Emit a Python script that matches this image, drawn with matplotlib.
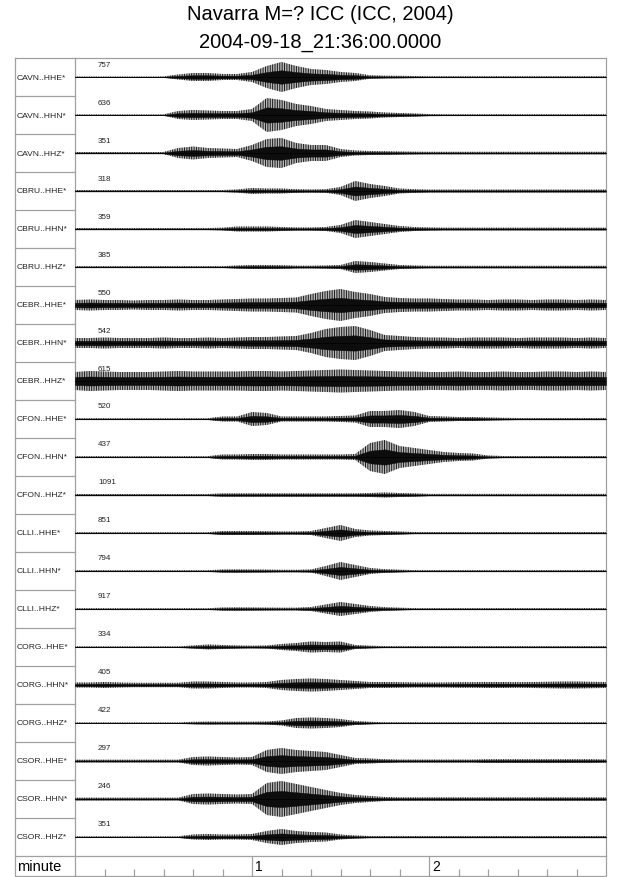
import matplotlib.pyplot as plt

plt.rcParams['font.family'] = ['Liberation Sans', 'DejaVu Sans']
plt.rcParams['hatch.linewidth'] = 0.7

title = "Navarra M=? ICC (ICC, 2004)"
start_time = "2004-09-18_21:36:00.0000"

channels = ["CAVN..HHE*", "CAVN..HHN*", "CAVN..HHZ*",
            "CBRU..HHE*", "CBRU..HHN*", "CBRU..HHZ*",
            "CEBR..HHE*", "CEBR..HHN*", "CEBR..HHZ*",
            "CFON..HHE*", "CFON..HHN*", "CFON..HHZ*",
            "CLLI..HHE*", "CLLI..HHN*", "CLLI..HHZ*",
            "CORG..HHE*", "CORG..HHN*", "CORG..HHZ*",
            "CSOR..HHE*", "CSOR..HHN*", "CSOR..HHZ*"]
max_counts = [757, 636, 351, 318, 359, 385, 550, 542, 615, 520, 437, 1091,
              851, 794, 917, 334, 405, 422, 297, 246, 351]

# seconds after 21:36:00, envelope half-amplitude (pixels)
env_time = [0, 5, 10, 15, 20, 25, 30, 35, 40, 45, 50, 55, 60, 65, 70, 75, 80, 85,
            90, 95, 100, 105, 110, 115, 120, 125, 130, 135, 140, 145, 150, 155,
            160, 165, 170, 175, 180]

cavn_hhe = [0.5]*6 + [0.6, 2.5, 4, 4, 3, 3, 5, 11, 15, 11, 8, 7, 5, 4, 1.7, 1.3, 1.2, 1.0] + [0.8]*13
cavn_hhn = [0.6]*7 + [4, 5, 4.5, 4, 4, 6, 17, 15, 11, 9, 6, 5, 4, 3.5, 2.5, 2, 1.5, 1.0] + [0.8]*12
cavn_hhz = [1.0]*7 + [5, 6.5, 5, 4.5, 4, 8, 14, 15, 10, 8, 8, 4, 2.5, 2, 1.8, 1.5, 1.3] + [1.2]*13
cbru_hhe = [1.0]*11 + [1.5, 3, 2.5, 2.5, 1.8, 1.5, 1.8, 4, 10, 7, 5, 2.5, 1.8] + [1.4]*13
cbru_hhn = [1.0]*10 + [1.3, 2.5, 2.5, 2.5, 2, 1.5, 1.5, 2, 4, 9, 7, 5, 3, 2, 1.5] + [1.3]*12
cbru_hhz = [0.9]*11 + [1.5, 2, 2, 1.8, 1.3, 1.3, 1.5, 2, 6, 5, 3.5, 2, 1.5] + [1.2]*13
cebr_hhe = [5, 5.5, 5, 5, 4.5, 5, 5, 5.5, 5, 5, 5.5, 6, 6.5, 6.5, 7, 7.5, 11, 14, 16, 13,
            11, 8, 7, 6.5, 6.5, 6, 5.5, 5.5, 5, 5.5, 5.5, 5, 5.5, 5.5, 5, 5.5, 5]
cebr_hhn = [5, 5, 5.5, 5, 5, 5, 5.5, 5, 5, 5.5, 5, 5.5, 6, 6, 6.5, 7, 10, 14, 16, 17,
            13, 8, 7, 6, 5.5, 5.5, 5, 5.5, 5.5, 5.5, 5, 5.5, 5.5, 5.5, 5, 5.5, 5]
cebr_hhz = [9, 10, 9.5, 9, 9, 9, 9.5, 10, 9.5, 9.5, 9.5, 9.5, 10, 10, 9.5, 10, 10.5, 11, 11.5,
            11, 10.5, 10, 9.5, 9.5, 9, 9, 9.5, 9, 9, 9.5, 9, 9, 9.5, 9.5, 9, 9.5, 9]
cfon_hhe = [0.8]*10 + [2.5, 2.5, 7, 6, 2.5, 2.5, 2.5, 2.5, 3, 3.5, 8, 8, 9, 7, 3, 2.5, 2, 2, 1.5, 1.2] + [1.0]*7
cfon_hhn = [0.8]*10 + [2.5, 2.5, 3, 3, 2.5, 2.5, 2.5, 2.5, 2.5, 3, 14, 17, 11, 9, 7, 5, 4, 3.5, 1.5] + [1.0]*8
cfon_hhz = [1.0]*10 + [1.6]*10 + [2, 2.5, 2, 1.6] + [1.1]*13
clli_hhe = [0.8]*10 + [2, 2, 2, 1.8, 1.5, 1.5, 2, 5, 8, 4, 2.5, 2, 1.5] + [1.0]*14
clli_hhn = [0.8]*10 + [1.5, 1.6, 1.5, 1.4, 1.2, 1.2, 1.5, 5, 9, 6, 3, 1.8, 1.3] + [0.9]*14
clli_hhz = [0.8]*10 + [1.5, 1.6, 1.5, 1.4, 1.3, 1.3, 2, 4.5, 7, 5, 3, 1.8, 1.3] + [0.9]*14
corg_hhe = [0.7]*8 + [1.5, 2.5, 2, 1.5, 1.3, 1.5, 3, 4, 5.5, 5, 5.5, 2, 1.3] + [0.9]*16
corg_hhn = [2.5, 2.5, 3, 2.5, 2.2, 2.2, 2.2, 2.2, 3.5, 3.5, 3, 2.5, 2.5, 3, 5, 6, 6.5, 6, 5,
            4, 3, 3, 2.8, 2.5, 2.5, 2.5, 2.8, 2.8, 3, 3, 2.8, 3, 3.2, 3.5, 3.5, 3.2, 3]
corg_hhz = [0.6]*8 + [1.2, 1.4, 1.3, 1.3, 1.3, 1.5, 2.5, 5, 5.5, 5, 4, 2, 1.2] + [0.8]*16
csor_hhe = [1.3]*8 + [4, 4.5, 4, 3.5, 4, 11, 13, 11, 10, 9, 6, 3, 2.5, 1.8] + [1.4]*6 + [1.8]*8 + [1.5]
csor_hhn = [1.3]*8 + [5, 5.5, 5, 4.5, 5, 16, 18, 15, 12, 9, 6, 4, 3, 2] + [1.6]*15
csor_hhz = [0.7]*8 + [2.5, 3, 2.5, 2.5, 3, 6, 8, 6, 5, 4.5, 2.5, 1.5] + [1.0]*17

envelopes = [cavn_hhe, cavn_hhn, cavn_hhz, cbru_hhe, cbru_hhn, cbru_hhz,
             cebr_hhe, cebr_hhn, cebr_hhz, cfon_hhe, cfon_hhn, cfon_hhz,
             clli_hhe, clli_hhn, clli_hhz, corg_hhe, corg_hhn, corg_hhz,
             csor_hhe, csor_hhn, csor_hhz]

minute_labels = ["1", "2"]

# figure layout in pixels
W, H = 640, 878
frame_l, label_r, frame_r = 15, 75, 606
top, row_h = 59, 38
rows_bot = top + row_h * len(channels)
frame_b = 877
grid = '#a0a0a0'

fig = plt.figure(figsize=(W / 100, H / 100), dpi=100)

bg = fig.add_axes([0, 0, 1, 1])
bg.set_xlim(0, W)
bg.set_ylim(H, 0)
bg.axis('off')

ax = fig.add_axes([label_r / W, 1 - rows_bot / H, (frame_r - label_r) / W, (rows_bot - top) / H])
ax.set_xlim(env_time[0], env_time[-1])
ax.set_ylim(rows_bot, top)
ax.axis('off')
ax.patch.set_alpha(0)

tax = fig.add_axes([label_r / W, 1 - frame_b / H, (frame_r - label_r) / W, (frame_b - rows_bot) / H])
tax.set_xlim(env_time[0], env_time[-1])
tax.set_ylim(0, frame_b - rows_bot)
tax.axis('off')
tax.patch.set_alpha(0)

# frame
bg.plot([frame_l, frame_r, frame_r, frame_l, frame_l], [top, top, frame_b, frame_b, top], color=grid, lw=0.9)
bg.plot([label_r, label_r], [top, frame_b], color=grid, lw=0.9)
for i in range(1, len(channels)):
    y = top + i * row_h
    bg.plot([frame_l, label_r], [y, y], color=grid, lw=0.9)
bg.plot([frame_l, frame_r], [rows_bot, rows_bot], color=grid, lw=0.9)

for i, (name, count, env) in enumerate(zip(channels, max_counts, envelopes)):
    base = top + row_h * (i + 0.5)
    bg.text(frame_l + 2, base, name, fontsize=6.1, va='center', ha='left', color='#222222')
    ax.text(7.8, base - 13, str(count), fontsize=5.8, va='center', ha='left', color='#222222')
    lo = [base - a for a in env]
    hi = [base + a for a in env]
    ax.fill_between(env_time, lo, hi, facecolor='0.72', edgecolor='0.1', hatch='|||||||', lw=0)
    lo2 = [base - 0.45 * a for a in env]
    hi2 = [base + 0.45 * a for a in env]
    ax.fill_between(env_time, lo2, hi2, color='0.05', lw=0.3)
    ax.plot(env_time, [base] * len(env_time), color='black', lw=0.5)

# time axis row
span = frame_b - rows_bot
for t in range(10, 180, 10):
    if t % 60 == 0:
        tax.vlines(t, 0, span, color=grid, lw=0.9)
    else:
        tax.vlines(t, 0, 7, color=grid, lw=0.9)
for k, lab in enumerate(minute_labels):
    tax.text(60 * (k + 1) + 1, span / 2, lab, fontsize=10, va='center', ha='left')
bg.text(frame_l + 2, (rows_bot + frame_b) / 2, "minute", fontsize=10.5, va='center', ha='left')

fig.text(0.5, 1 - 14 / H, title, ha='center', va='center', fontsize=14.5)
fig.text(0.5, 1 - 42 / H, start_time, ha='center', va='center', fontsize=14.5)

fig.savefig("out.png", dpi=100)
